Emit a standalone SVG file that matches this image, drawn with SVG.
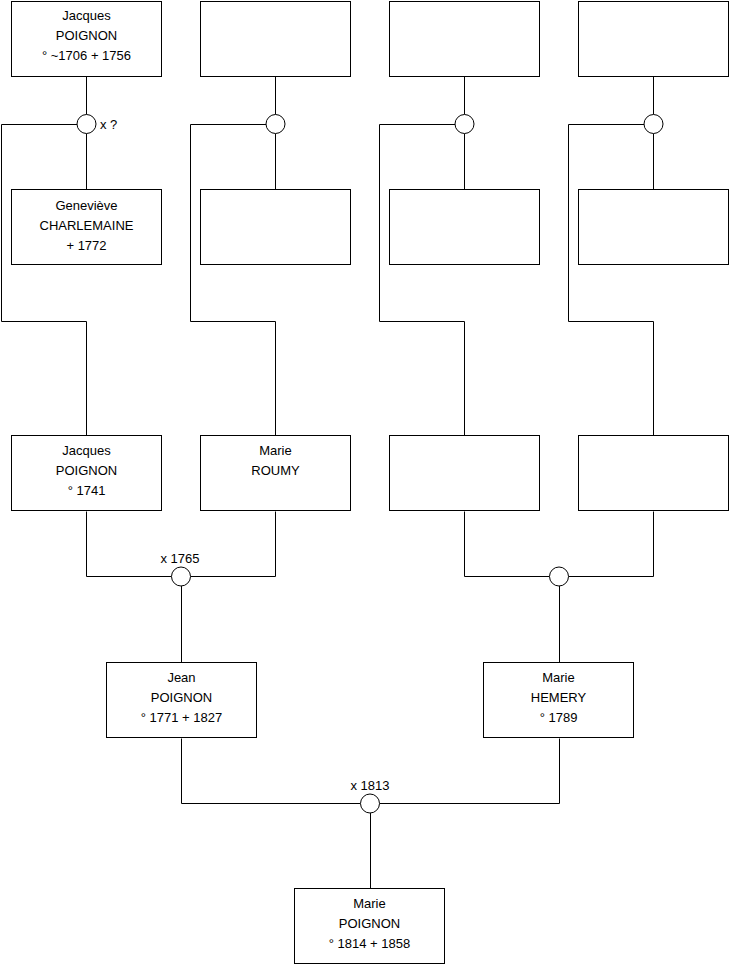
<svg xmlns="http://www.w3.org/2000/svg" width="740" height="975" viewBox="0 0 740 975">
<style>
.box{fill:#fff;stroke:#000;stroke-width:1}
.c{fill:#fff;stroke:#000;stroke-width:1}
.l{fill:none;stroke:#000;stroke-width:1}
text{font-family:"Liberation Sans",Arial,sans-serif;font-size:13px;fill:#000}
.m{text-anchor:middle}
</style>
<rect width="740" height="975" fill="#fff"/>
<g id="connectors">
<path class="l" d="M86.5 76.5V114.5M86.5 133.5V189.5M77.5 124.5H1.5V321.5H86.5V435.5"/>
<path class="l" d="M275.5 76.5V114.5M275.5 133.5V189.5M266.5 124.5H190.5V321.5H275.5V435.5"/>
<path class="l" d="M464.5 76.5V114.5M464.5 133.5V189.5M455.5 124.5H379.5V321.5H464.5V435.5"/>
<path class="l" d="M653.5 76.5V114.5M653.5 133.5V189.5M644.5 124.5H568.5V321.5H653.5V435.5"/>
<path class="l" d="M86.5 511.5V576.5H171.5M190.5 576.5H275.5V511.5M181.5 585.5V662.5"/>
<path class="l" d="M464.5 511.5V576.5H549.5M568.5 576.5H653.5V511.5M559.5 585.5V662.5"/>
<path class="l" d="M181.5 738.5V803.5H360.5M379.5 803.5H559.5V738.5M370.5 812.5V888.5"/>
<circle class="c" cx="86.5" cy="124" r="9.5"/>
<circle class="c" cx="275.5" cy="124" r="9.5"/>
<circle class="c" cx="464.5" cy="124" r="9.5"/>
<circle class="c" cx="653.5" cy="124" r="9.5"/>
<circle class="c" cx="181" cy="576.5" r="9.5"/>
<circle class="c" cx="559" cy="576.5" r="9.5"/>
<circle class="c" cx="370" cy="803.5" r="9.5"/>
<text x="100" y="129">x ?</text>
<text class="m" x="180" y="563">x 1765</text>
<text class="m" x="370" y="790">x 1813</text>
</g>
<g id="n1"><rect class="box" x="11.5" y="1.5" width="150" height="75"/>
<text class="m" x="86.5" y="20">Jacques</text><text class="m" x="86.5" y="40">POIGNON</text><text class="m" x="86.5" y="60">° ~1706 + 1756</text></g>
<g id="n2"><rect class="box" x="200.5" y="1.5" width="150" height="75"/></g>
<g id="n3"><rect class="box" x="389.5" y="1.5" width="150" height="75"/></g>
<g id="n4"><rect class="box" x="578.5" y="1.5" width="150" height="75"/></g>
<g id="n5"><rect class="box" x="11.5" y="189.5" width="150" height="75"/>
<text class="m" x="86.5" y="210">Geneviève</text><text class="m" x="86.5" y="230">CHARLEMAINE</text><text class="m" x="86.5" y="250">+ 1772</text></g>
<g id="n6"><rect class="box" x="200.5" y="189.5" width="150" height="75"/></g>
<g id="n7"><rect class="box" x="389.5" y="189.5" width="150" height="75"/></g>
<g id="n8"><rect class="box" x="578.5" y="189.5" width="150" height="75"/></g>
<g id="n9"><rect class="box" x="11.5" y="435.5" width="150" height="75"/>
<text class="m" x="86.5" y="455">Jacques</text><text class="m" x="86.5" y="475">POIGNON</text><text class="m" x="86.5" y="495">° 1741</text></g>
<g id="n10"><rect class="box" x="200.5" y="435.5" width="150" height="75"/>
<text class="m" x="275.5" y="455">Marie</text><text class="m" x="275.5" y="475">ROUMY</text></g>
<g id="n11"><rect class="box" x="389.5" y="435.5" width="150" height="75"/></g>
<g id="n12"><rect class="box" x="578.5" y="435.5" width="150" height="75"/></g>
<g id="n13"><rect class="box" x="106.5" y="662.5" width="150" height="75"/>
<text class="m" x="181.5" y="682">Jean</text><text class="m" x="181.5" y="702">POIGNON</text><text class="m" x="181.5" y="722">° 1771 + 1827</text></g>
<g id="n14"><rect class="box" x="483.5" y="662.5" width="150" height="75"/>
<text class="m" x="558.5" y="682">Marie</text><text class="m" x="558.5" y="702">HEMERY</text><text class="m" x="558.5" y="722">° 1789</text></g>
<g id="n15"><rect class="box" x="294.5" y="888.5" width="150" height="75"/>
<text class="m" x="369.5" y="908">Marie</text><text class="m" x="369.5" y="928">POIGNON</text><text class="m" x="369.5" y="948">° 1814 + 1858</text></g>
</svg>
